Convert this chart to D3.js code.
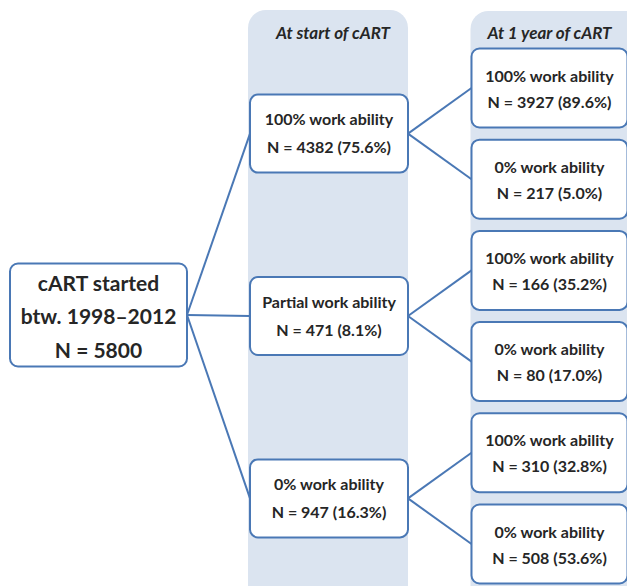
<!DOCTYPE html>
<html><head><meta charset="utf-8">
<script src="https://cdn.jsdelivr.net/npm/d3@7"></script>
<style>body{margin:0;background:#fff}svg{display:block}</style>
</head><body><svg id="c" width="627" height="586"></svg>
<script>
const rootLabel = ["cART started", "btw. 1998\u20132012", "N = 5800"];
const columnTitles = ["At start of cART", "At 1 year of cART"];
const startCategories = ["100% work ability", "Partial work ability", "0% work ability"];
const startN = [4382, 471, 947];
const startPct = ["75.6", "8.1", "16.3"];
const yearCategories = ["100% work ability", "0% work ability", "100% work ability", "0% work ability", "100% work ability", "0% work ability"];
const yearN = [3927, 217, 166, 80, 310, 508];
const yearPct = ["89.6", "5.0", "35.2", "17.0", "32.8", "53.6"];
const yearParent = [0, 0, 1, 1, 2, 2];

const svg = d3.select("#c");
const stroke = "#4a78b5", bg = "#dbe4f0", txt = "#262626";
const font = "Lato, 'Open Sans', sans-serif";

// horizontal levels
const x = d3.scaleOrdinal().domain([0,1,2]).range([98.5, 329, 549.5]);
const boxW = [177, 158, 156];
const boxH = [103, 78, 79];
// leaf vertical positions
const y = d3.scalePoint().domain(d3.range(yearN.length)).range([88, 544]);
const leafY = yearN.map((d,i)=>y(i));
const midY = startN.map((d,j)=>d3.mean(leafY.filter((v,i)=>yearParent[i]===j)));
const rootY = 315;

// column backgrounds
svg.append("rect").attr("x", x(1)-81).attr("y", 10).attr("width", 160).attr("height", 600)
  .attr("rx", 18).attr("fill", bg);
svg.append("rect").attr("x", x(2)-79).attr("y", 11).attr("width", 200).attr("height", 600)
  .attr("rx", 18).attr("fill", bg);
svg.selectAll("text.hdr").data(columnTitles).join("text").attr("class","hdr")
  .attr("x",(d,i)=>x(i+1)+(i?0:4)).attr("y",32).attr("text-anchor","middle")
  .attr("dominant-baseline","central")
  .attr("font-family",font).attr("font-weight","bold").attr("font-style","italic")
  .attr("font-size",17).attr("fill",txt).text(d=>d);

// links
const lg = svg.append("g").attr("stroke", stroke).attr("stroke-width", 2).attr("fill","none");
midY.forEach(m=>lg.append("line").attr("x1", x(0)+boxW[0]/2).attr("y1", rootY).attr("x2", x(1)-boxW[1]/2).attr("y2", m));
leafY.forEach((l,i)=>lg.append("line").attr("x1", x(1)+boxW[1]/2).attr("y1", midY[yearParent[i]]).attr("x2", x(2)-boxW[2]/2).attr("y2", l));

function box(cx, cy, w, h, lines, size, offs){
  const g = svg.append("g");
  g.append("rect").attr("x", cx-w/2).attr("y", cy-h/2).attr("width", w).attr("height", h)
    .attr("rx", 8).attr("fill", "#fff").attr("stroke", stroke).attr("stroke-width", 2);
  lines.forEach((t,k)=>g.append("text").attr("x", cx).attr("y", cy+offs[k]).attr("text-anchor","middle")
    .attr("dominant-baseline","central").attr("font-family",font).attr("font-weight","bold")
    .attr("font-size",size).attr("fill",txt).text(t));
}
box(x(0), rootY, boxW[0], boxH[0], rootLabel, 21, [-33, 0, 34]);
startCategories.forEach((c,j)=>box(x(1), midY[j], boxW[1], boxH[1], [c, `N = ${startN[j]} (${startPct[j]}%)`], 16, [-15, 13]));
yearCategories.forEach((c,i)=>box(x(2), leafY[i], boxW[2], boxH[2], [c, `N = ${yearN[i]} (${yearPct[i]}%)`], 16, [-13, 13]));
</script></body></html>
